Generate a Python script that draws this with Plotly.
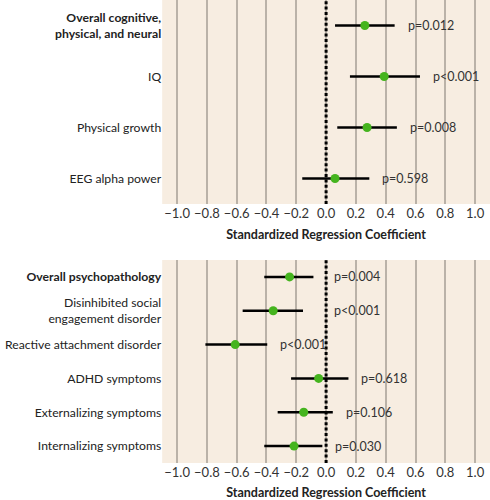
import plotly.graph_objects as go
from plotly.subplots import make_subplots

# top panel: cognitive / physical / neural outcomes
top_labels = ["<b>Overall cognitive,<br>physical, and neural</b>", "IQ",
              "Physical growth", "EEG alpha power"]
top_coef = [0.26, 0.39, 0.275, 0.06]
top_lo = [0.06, 0.16, 0.075, -0.16]
top_hi = [0.46, 0.63, 0.475, 0.29]
top_p = ["p=0.012", "p<0.001", "p=0.008", "p=0.598"]

# bottom panel: psychopathology outcomes
bot_labels = ["<b>Overall psychopathology</b>", "Disinhibited social<br>engagement disorder",
              "Reactive attachment disorder", "ADHD symptoms",
              "Externalizing symptoms", "Internalizing symptoms"]
bot_coef = [-0.245, -0.355, -0.61, -0.05, -0.15, -0.215]
bot_lo = [-0.415, -0.56, -0.81, -0.235, -0.325, -0.415]
bot_hi = [-0.085, -0.155, -0.395, 0.15, 0.045, -0.025]
bot_p = ["p=0.004", "p<0.001", "p<0.001", "p=0.618", "p=0.106", "p=0.030"]

xticks = [-1.0, -0.8, -0.6, -0.4, -0.2, 0.0, 0.2, 0.4, 0.6, 0.8, 1.0]

BG = "#f7ede1"
GREEN = "#45b41e"
FONT = "Lato"
PX_PER_UNIT = 149  # approx pixels per x unit, used for label placement

fig = make_subplots(rows=2, cols=1, vertical_spacing=0.1)


def add_panel(row, labels, coef, lo, hi, ptext):
    n = len(labels)
    ys = list(range(n))
    for i in range(n):
        fig.add_trace(go.Scatter(x=[lo[i], hi[i]], y=[i, i], mode="lines",
                                 line=dict(color="black", width=2.5),
                                 showlegend=False, hoverinfo="skip"), row=row, col=1)
    fig.add_trace(go.Scatter(x=coef, y=ys, mode="markers",
                             marker=dict(color=GREEN, size=9),
                             showlegend=False), row=row, col=1)
    xref = "x" if row == 1 else "x2"
    yref = "y" if row == 1 else "y2"
    for i in range(n):
        # put the p label right of the CI; jump past the zero line if it would collide
        start = hi[i] * PX_PER_UNIT + 10
        x, shift = hi[i], 11
        if start < 0 < start + 46:
            x, shift = 0, 6
        fig.add_annotation(x=x, y=i, xref=xref, yref=yref, text=ptext[i],
                           showarrow=False, xanchor="left", xshift=shift,
                           font=dict(family=FONT, size=12.5, color="#333333"))
    fig.add_shape(type="line", x0=0, x1=0, y0=0, y1=1, xref=xref,
                  yref=yref + " domain", line=dict(color="black", width=3, dash="3px,2.4px"))
    fig.update_yaxes(tickvals=ys, ticktext=labels, range=[n - 0.5, -0.5],
                     showgrid=False, zeroline=False, ticks="", automargin=False,
                     tickfont=dict(family=FONT, size=12.2, color="#222222"),
                     row=row, col=1)
    fig.update_xaxes(range=[-1.1, 1.1], tickvals=xticks, tickangle=0, automargin=False,
                     ticktext=[f"{v:.1f}".replace("-", "\u2212") for v in xticks],
                     showgrid=True, gridcolor="#bab2a8", gridwidth=1.5, zeroline=False,
                     tickfont=dict(family=FONT, size=13, color="#333333"),
                     title=dict(text="<b>Standardized Regression Coefficient</b>",
                                font=dict(family=FONT, size=12.5, color="#222222"),
                                standoff=10),
                     row=row, col=1)


add_panel(1, top_labels, top_coef, top_lo, top_hi, top_p)
add_panel(2, bot_labels, bot_coef, bot_lo, bot_hi, bot_p)

fig.update_layout(
    width=490, height=500,
    margin=dict(l=0, r=0, t=0, b=0),
    paper_bgcolor="white",
    plot_bgcolor=BG,
    xaxis=dict(domain=[0.331, 1.0]),
    xaxis2=dict(domain=[0.331, 1.0]),
    yaxis=dict(domain=[0.592, 1.0]),
    yaxis2=dict(domain=[0.074, 0.48]),
)

# the page body has a default 8px margin; drop it so the 490x500 figure fills the window
fig.write_html("out.html", config={"displayModeBar": False},
               post_script="document.body.style.margin='0';")
